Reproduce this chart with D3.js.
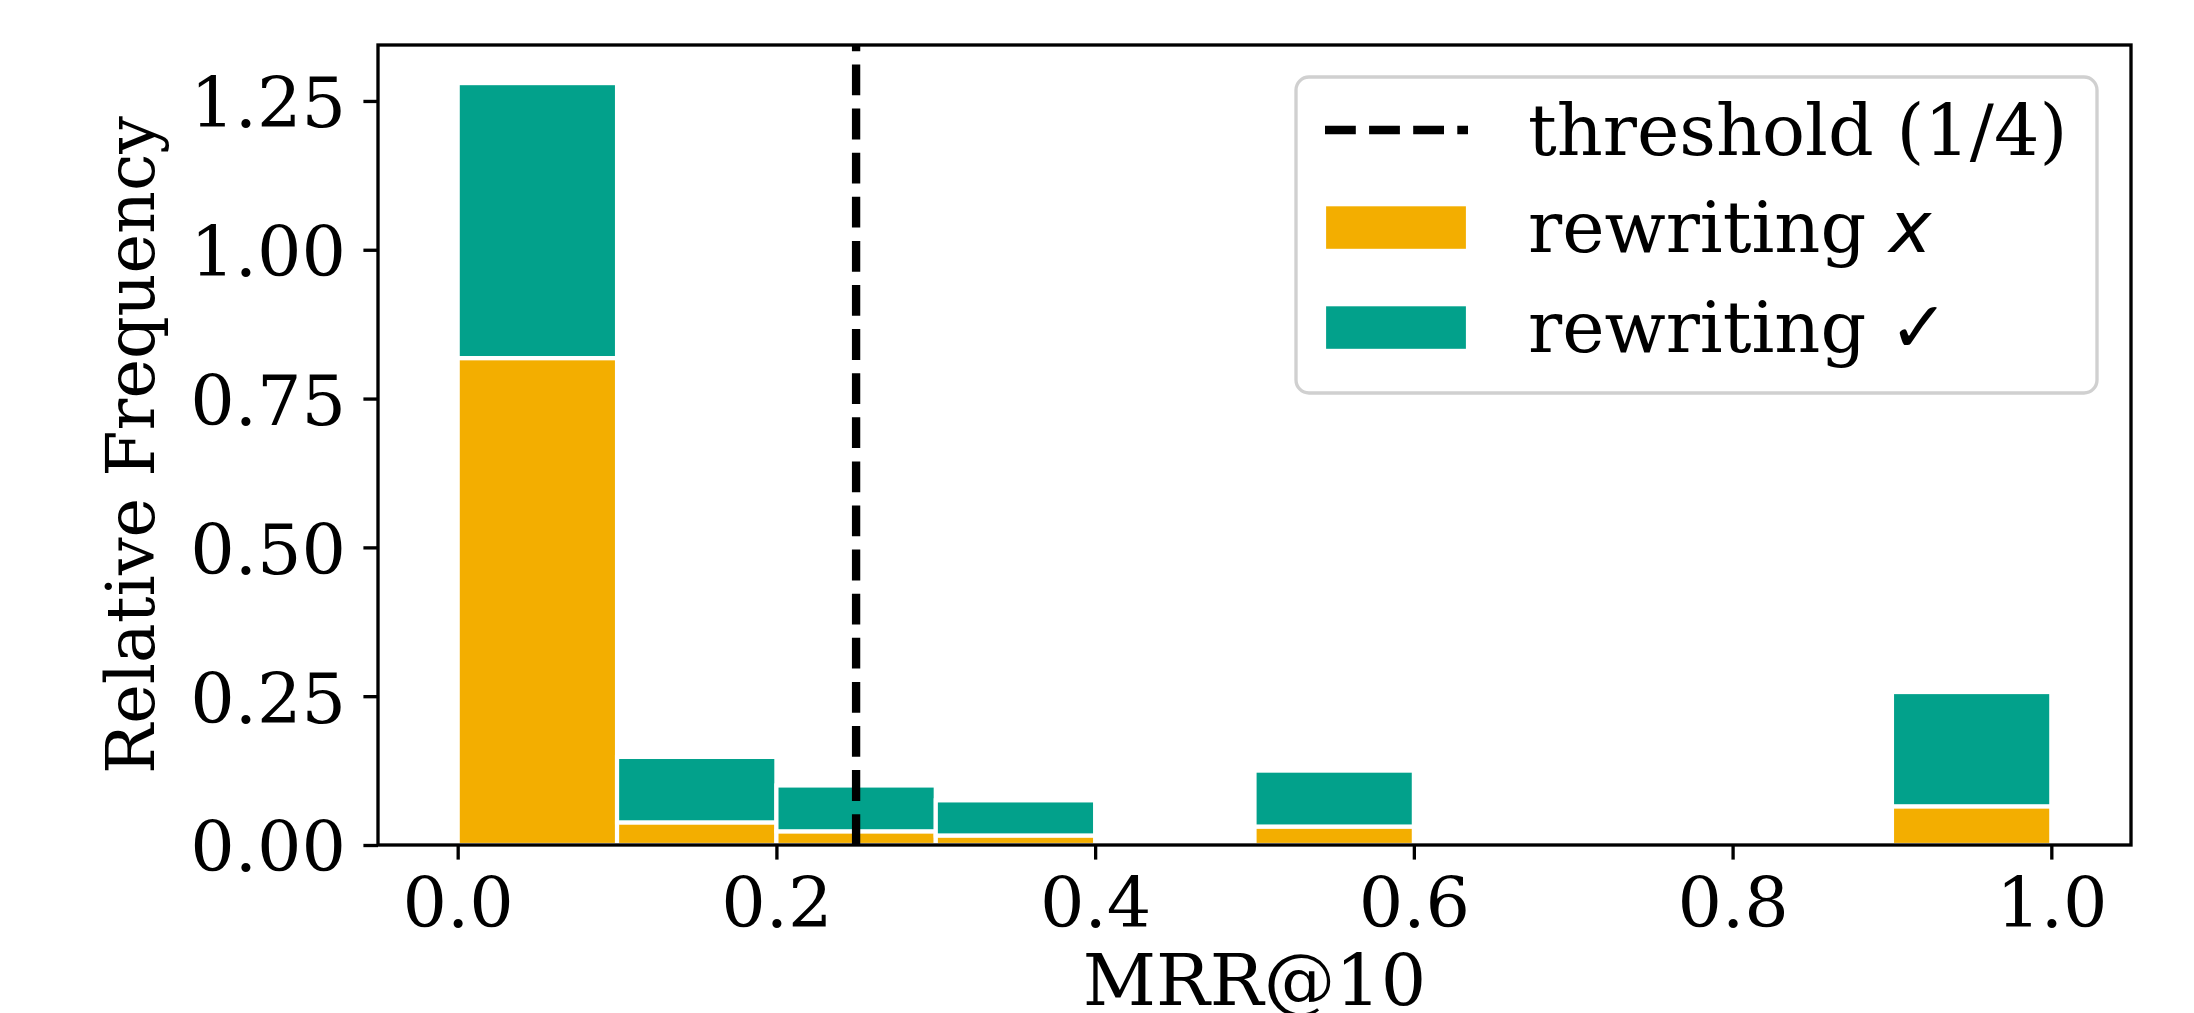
<!DOCTYPE html>
<html>
<head>
<meta charset="utf-8">
<script src="https://cdn.jsdelivr.net/npm/d3@7"></script>
<style>
  html, body { margin: 0; padding: 0; background: #fff; }
  svg { display: block; }
  text { font-family: "DejaVu Serif", serif; }
</style>
</head>
<body>
<svg id="chart" width="2194" height="1013"></svg>
<script>
// ---- data ----
const binStarts = [0.0, 0.1, 0.2, 0.3, 0.4, 0.5, 0.6, 0.7, 0.8, 0.9];
const binWidth = 0.1;
const rewritingWrong = [0.818, 0.038, 0.023, 0.016, 0, 0.031, 0, 0, 0, 0.065];
const rewritingRight = [0.462, 0.110, 0.077, 0.059, 0, 0.094, 0, 0, 0, 0.192];
const threshold = 0.25;
const xTicks = [0.0, 0.2, 0.4, 0.6, 0.8, 1.0];
const yTicks = [0.00, 0.25, 0.50, 0.75, 1.00, 1.25];
const seriesNames = ["rewriting x", "rewriting \u2713"];
const thresholdLabel = "threshold (1/4)";

// ---- layout ----
const W = 2194, H = 1013;
const plot = { left: 378, right: 2131, top: 45, bottom: 845 };
const FS = 66.7;      // y label
const FST = 70;       // tick labels
const FSL = 71.5;     // legend, x label
const LW = 3.33;
const colors = { wrong: "#F3AE00", right: "#02A18B" };

const svg = d3.select("#chart");

const x = d3.scaleLinear().domain([-0.05, 1.05]).range([plot.left, plot.right]);
const y = d3.scaleLinear().domain([0, 1.344]).range([plot.bottom, plot.top]);

// bars
const rows = binStarts.map((b, i) => ({ b, w: rewritingWrong[i], r: rewritingRight[i] }));
const gBars = svg.append("g");
gBars.selectAll("rect.wrong").data(rows.filter(d => d.w > 0)).join("rect")
  .attr("class", "wrong")
  .attr("x", d => x(d.b)).attr("width", d => x(d.b + binWidth) - x(d.b))
  .attr("y", d => y(d.w)).attr("height", d => y(0) - y(d.w))
  .attr("fill", colors.wrong).attr("stroke", "#fff").attr("stroke-width", 4.2);
gBars.selectAll("rect.right").data(rows.filter(d => d.r > 0)).join("rect")
  .attr("class", "right")
  .attr("x", d => x(d.b)).attr("width", d => x(d.b + binWidth) - x(d.b))
  .attr("y", d => y(d.w + d.r)).attr("height", d => y(d.w) - y(d.w + d.r))
  .attr("fill", colors.right).attr("stroke", "#fff").attr("stroke-width", 4.2);

// threshold line
svg.append("line")
  .attr("x1", x(threshold)).attr("x2", x(threshold))
  .attr("y1", plot.bottom).attr("y2", plot.top)
  .attr("stroke", "#000").attr("stroke-width", 8.33)
  .attr("stroke-dasharray", "30.8,13.3");

// axes
const xAxis = d3.axisBottom(x).tickValues(xTicks).tickFormat(d3.format(".1f"))
  .tickSize(14.6).tickPadding(17.7);
const gx = svg.append("g").attr("transform", `translate(0,${plot.bottom})`).call(xAxis);
gx.select(".domain").remove();
gx.selectAll(".tick line").attr("stroke", "#000").attr("stroke-width", LW);
gx.selectAll(".tick text").attr("fill", "#000")
  .style("font-family", "DejaVu Serif").style("font-size", FST + "px");

const yAxis = d3.axisLeft(y).tickValues(yTicks).tickFormat(d3.format(".2f"))
  .tickSize(14.6).tickPadding(17.4);
const gy = svg.append("g").attr("transform", `translate(${plot.left},0)`).call(yAxis);
gy.select(".domain").remove();
gy.selectAll(".tick line").attr("stroke", "#000").attr("stroke-width", LW);
gy.selectAll(".tick text").attr("fill", "#000").attr("dy", "0.37em")
  .style("font-family", "DejaVu Serif").style("font-size", FST + "px");

// frame
svg.append("rect")
  .attr("x", plot.left).attr("y", plot.top)
  .attr("width", plot.right - plot.left).attr("height", plot.bottom - plot.top)
  .attr("fill", "none").attr("stroke", "#000").attr("stroke-width", LW);

// axis labels
svg.append("text")
  .attr("x", (plot.left + plot.right) / 2).attr("y", 1005)
  .attr("text-anchor", "middle").style("font-size", FSL + "px")
  .text("MRR@10");
svg.append("text")
  .attr("transform", `translate(154,${(plot.top + plot.bottom) / 2}) rotate(-90)`)
  .attr("text-anchor", "middle").style("font-size", FS + "px")
  .text("Relative Frequency");

// legend
const lg = svg.append("g");
lg.append("rect")
  .attr("x", 1296).attr("y", 77).attr("width", 2097 - 1296).attr("height", 393 - 77)
  .attr("rx", 13).attr("ry", 13)
  .attr("fill", "rgba(255,255,255,0.8)").attr("stroke", "#d0d0d0").attr("stroke-width", LW);

const handleX0 = 1324, handleX1 = 1468, textX = 1528;
const rowY = [130, 227.5, 327.5];
lg.append("line")
  .attr("x1", handleX0 + 1).attr("x2", handleX1).attr("y1", rowY[0]).attr("y2", rowY[0])
  .attr("stroke", "#000").attr("stroke-width", 8.33).attr("stroke-dasharray", "30.8,13.3");
lg.append("text").attr("x", textX).attr("y", rowY[0] + 25).style("font-size", FSL + "px")
  .text(thresholdLabel);

[colors.wrong, colors.right].forEach((c, i) => {
  lg.append("rect")
    .attr("x", handleX0).attr("y", rowY[i + 1] - 23.3)
    .attr("width", handleX1 - handleX0).attr("height", 46.7)
    .attr("fill", c).attr("stroke", "#fff").attr("stroke-width", 4.2);
});
const t1 = lg.append("text").attr("x", textX).attr("y", rowY[1] + 24).style("font-size", FSL + "px");
t1.append("tspan").text("rewriting ");
t1.append("tspan").style("font-family", "DejaVu Sans").style("font-style", "italic").text("x");
const t2 = lg.append("text").attr("x", textX).attr("y", rowY[2] + 24).style("font-size", FSL + "px");
t2.append("tspan").text("rewriting ");
t2.append("tspan").style("font-family", "DejaVu Sans").text("\u2713");
</script>
</body>
</html>
